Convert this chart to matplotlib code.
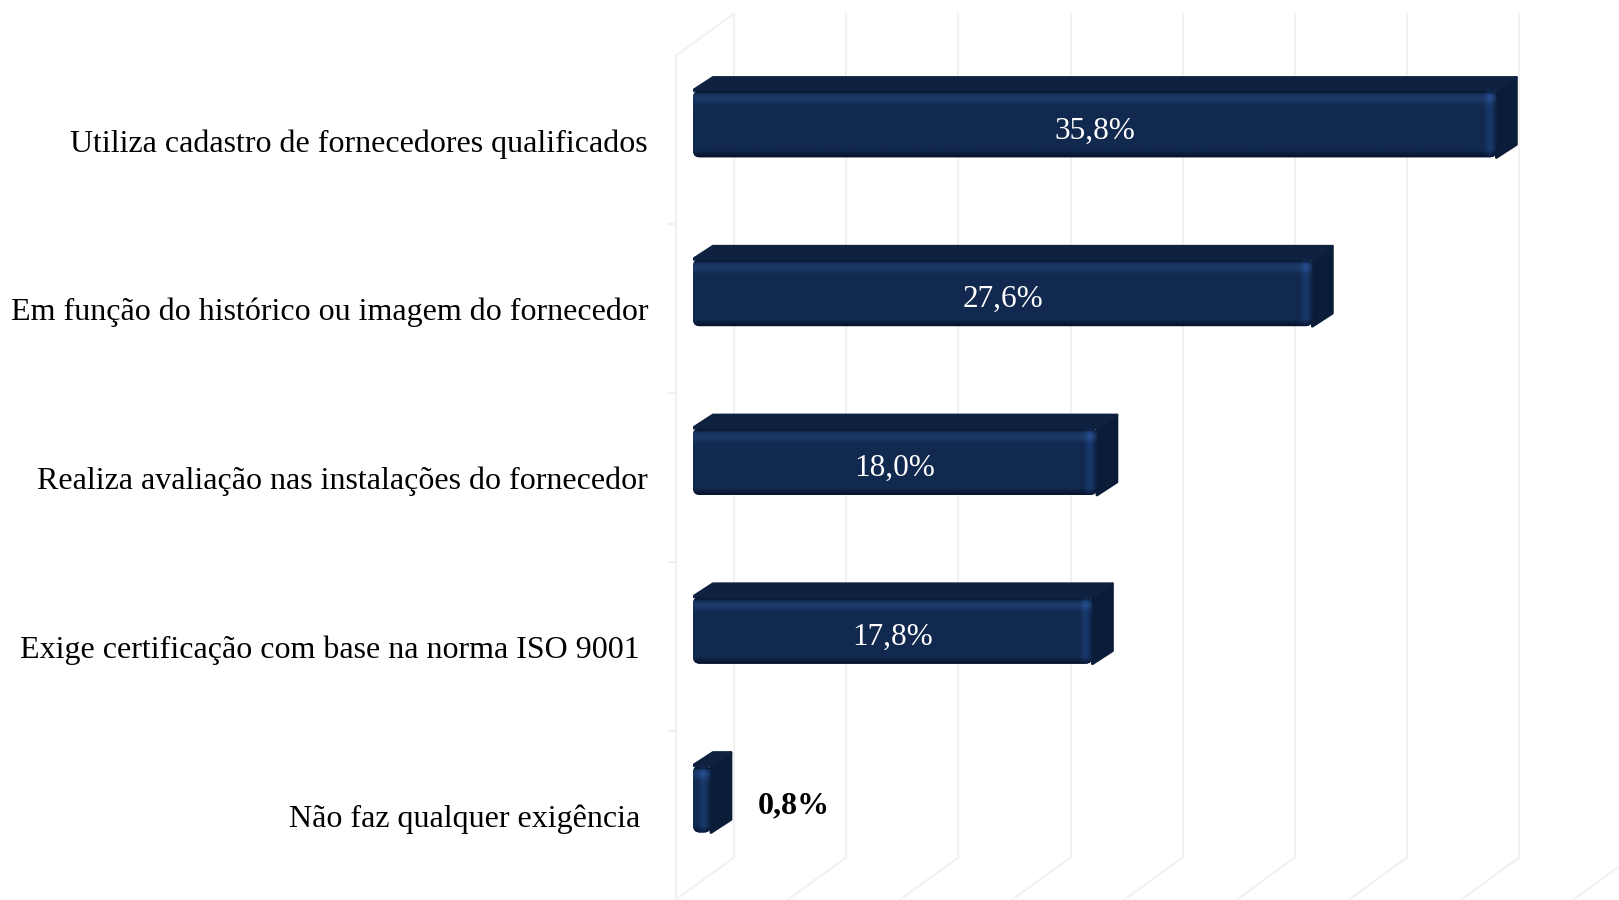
import numpy as np
import matplotlib.pyplot as plt
import matplotlib.colors as mcolors
from matplotlib.patches import Polygon, FancyBboxPatch

# -------------------------------
# Data
# -------------------------------
categories = [
    "Utiliza cadastro de fornecedores qualificados",
    "Em função do histórico ou imagem do fornecedor",
    "Realiza avaliação nas instalações do fornecedor",
    "Exige certificação com base na norma ISO 9001 ",
    "Não faz qualquer exigência ",
]
values = [35.8, 27.6, 18.0, 17.8, 0.8]
value_labels = ["35,8%", "27,6%", "18,0%", "17,8%", "0,8%"]
x_ticks = np.arange(0, 45, 5)
x_max = 40

# -------------------------------
# Figure / axes (bar front plane)
# -------------------------------
W, H, DPI = 1619, 900, 100
ax_left, ax_right = 693, 1590.6
ax_top, ax_bottom = 39.6, 883.4

plt.rcParams["font.family"] = ["Liberation Serif", "DejaVu Serif"]

fig = plt.figure(figsize=(W / DPI, H / DPI), dpi=DPI)
ax = fig.add_axes([ax_left / W, (H - ax_bottom) / H,
                   (ax_right - ax_left) / W, (ax_bottom - ax_top) / H])
n = len(values)
ax.set_xlim(0, x_max)
ax.set_ylim(n - 0.5, -0.5)
ax.axis("off")

px_x = (ax_right - ax_left) / x_max
px_y = (ax_bottom - ax_top) / n


def shift(x, y, dxp, dyp):
    # move a data point by screen pixels (dy positive = down)
    return x + dxp / px_x, y + dyp / px_y


back = (41, -26)
front = (-17, 16)
grid_col = "#f1f1f1"
grid_lw = 1.5

# back wall, floor and left wall
for xt in x_ticks:
    bx0, by0 = shift(xt, -0.5, *back)
    bx1, by1 = shift(xt, n - 0.5, *back)
    ax.plot([bx0, bx1], [by0, by1], color=grid_col, lw=grid_lw,
            clip_on=False, zorder=0)
    fx, fy = shift(xt, n - 0.5, *front)
    ax.plot([bx1, fx], [by1, fy], color=grid_col, lw=grid_lw,
            clip_on=False, zorder=0)

fx0, fy0 = shift(0, -0.5, *front)
fx1, fy1 = shift(0, n - 0.5, *front)
bx0, by0 = shift(0, -0.5, *back)
ax.plot([fx0, fx1], [fy0, fy1], color=grid_col, lw=grid_lw, clip_on=False, zorder=0)
ax.plot([fx0, bx0], [fy0, by0], color=grid_col, lw=grid_lw, clip_on=False, zorder=0)
for k in range(1, n):
    tx, ty = shift(0, k - 0.5, *front)
    ax.plot([tx - 7 / px_x, tx], [ty, ty], color=grid_col, lw=grid_lw,
            clip_on=False, zorder=0)

# -------------------------------
# Bars (pseudo 3D)
# -------------------------------
bar_h = 67 / px_y
ddx, ddy = 20 / px_x, 13 / px_y
c_top = "#0e2141"
c_side = "#0b1c38"
c_main = np.array(mcolors.to_rgb("#12294f"))
c_light = np.array(mcolors.to_rgb("#1c3969"))
c_dark = np.array(mcolors.to_rgb("#07142a"))

ny = 80
t = np.linspace(0, 1, ny)
prof = np.zeros((ny, 3))
for j, tt in enumerate(t):
    if tt < 0.05:
        c = c_dark * 0.6 + c_main * 0.4
    elif tt < 0.28:
        w = np.exp(-((tt - 0.12) / 0.07) ** 2)
        c = c_main * (1 - w) + c_light * w
    elif tt > 0.9:
        w = (tt - 0.9) / 0.1
        c = c_main * (1 - w) + c_dark * w
    else:
        c = c_main
    prof[j] = c

for i, v in enumerate(values):
    top = i - bar_h / 2
    bot = i + bar_h / 2
    side = Polygon([(v, top), (v + ddx, top - ddy), (v + ddx, bot - ddy), (v, bot)],
                   closed=True, facecolor=c_side, edgecolor=c_side, lw=2,
                   joinstyle="round", zorder=2)
    ax.add_patch(side)
    topf = Polygon([(0, top), (ddx, top - ddy), (v + ddx, top - ddy), (v, top)],
                   closed=True, facecolor=c_top, edgecolor=c_top, lw=2,
                   joinstyle="round", zorder=2)
    ax.add_patch(topf)

    face = FancyBboxPatch((0, top), v, bar_h,
                          boxstyle="round,pad=0,rounding_size=%f" % (7 / px_x),
                          mutation_aspect=px_x / px_y,
                          facecolor="#12294f", edgecolor="none", zorder=3)
    ax.add_patch(face)

    nx = max(int(v * px_x), 4)
    img = np.repeat(prof[:, None, :], nx, axis=1)
    xs = np.arange(nx)
    ridge = np.exp(-((xs - (nx - 8)) / 4.0) ** 2) * 0.35
    shade = np.clip((xs - (nx - 4)) / 4.0, 0, 1) * 0.3
    img = img * (1 + ridge[None, :, None]) * (1 - shade[None, :, None])
    img = np.clip(img, 0, 1)
    im = ax.imshow(img, extent=(0, v, bot, top), aspect="auto",
                   interpolation="bilinear", zorder=4)
    im.set_clip_path(face)

    if v >= 5:
        ax.text(v / 2, i + 7 / px_y, value_labels[i], ha="center", va="center",
                color="white", fontsize=22.5, zorder=6)
    else:
        ax.text(v + 47 / px_x, i + 7 / px_y, value_labels[i], ha="left", va="center",
                color="black", fontsize=23, fontweight="bold", zorder=6)

ax.set_xlim(0, x_max)
ax.set_ylim(n - 0.5, -0.5)

# category labels on the front plane
for i, cat in enumerate(categories):
    lx, ly = shift(0, i, -45, 20)
    ax.text(lx, ly, cat, ha="right", va="center", color="black",
            fontsize=23, clip_on=False)

fig.savefig("out.png", dpi=DPI, facecolor="white")
plt.close(fig)
